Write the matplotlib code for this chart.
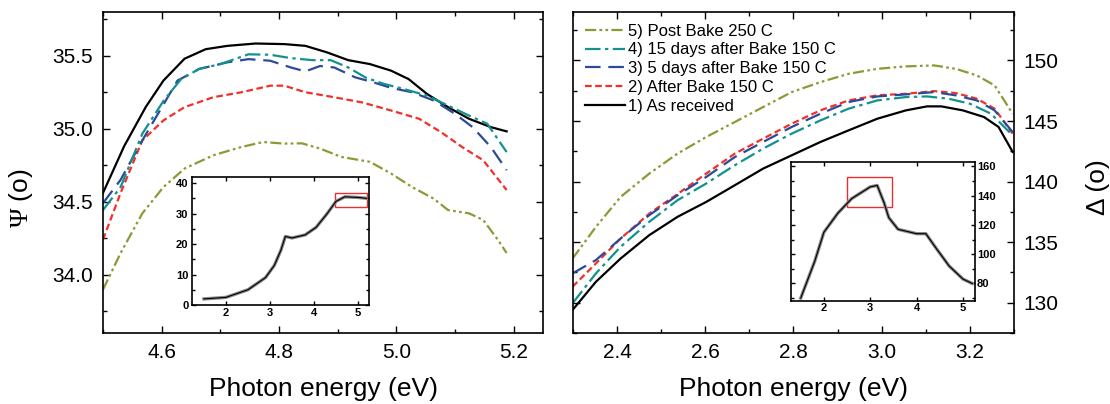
import matplotlib
matplotlib.use("Agg")
import matplotlib.pyplot as plt
from matplotlib.patches import Rectangle
from matplotlib.ticker import MultipleLocator

plt.rcParams['font.family'] = ['Liberation Sans', 'DejaVu Sans']
plt.rcParams['mathtext.fontset'] = 'custom'
plt.rcParams['mathtext.rm'] = 'Liberation Serif'

# ---- Psi data (left panel) ----
psi1_x = [4.500, 4.536, 4.573, 4.603, 4.639, 4.675, 4.712, 4.760, 4.809, 4.845,
          4.882, 4.918, 4.955, 4.991, 5.021, 5.052, 5.088, 5.124, 5.161, 5.188]
psi1_y = [34.56, 34.88, 35.15, 35.33, 35.48, 35.545, 35.568, 35.584, 35.58, 35.568,
          35.523, 35.47, 35.443, 35.398, 35.34, 35.239, 35.148, 35.068, 35.011, 34.982]

psi2_x = [4.500, 4.530, 4.567, 4.603, 4.639, 4.688, 4.736, 4.785, 4.809, 4.845,
          4.894, 4.942, 4.991, 5.039, 5.076, 5.112, 5.148, 5.188]
psi2_y = [34.24, 34.56, 34.92, 35.057, 35.148, 35.216, 35.25, 35.295, 35.295, 35.25,
          35.216, 35.18, 35.125, 35.068, 34.977, 34.875, 34.784, 34.58]

psi3_x = [4.500, 4.530, 4.567, 4.627, 4.664, 4.712, 4.748, 4.785, 4.820, 4.845,
          4.870, 4.894, 4.930, 4.961, 4.991, 5.027, 5.064, 5.100, 5.130, 5.161, 5.188]
psi3_y = [34.49, 34.65, 34.92, 35.33, 35.41, 35.455, 35.477, 35.466, 35.42, 35.393,
          35.43, 35.42, 35.352, 35.318, 35.28, 35.25, 35.193, 35.102, 35.011, 34.875, 34.716]

psi4_x = [4.500, 4.530, 4.567, 4.603, 4.633, 4.664, 4.700, 4.748, 4.785, 4.820,
          4.857, 4.888, 4.918, 4.948, 4.979, 5.015, 5.052, 5.088, 5.124, 5.155, 5.188]
psi4_y = [34.443, 34.6, 34.966, 35.19, 35.34, 35.41, 35.443, 35.51, 35.507, 35.484,
          35.47, 35.47, 35.42, 35.35, 35.307, 35.27, 35.227, 35.159, 35.09, 35.034, 34.84]

psi5_x = [4.500, 4.530, 4.567, 4.603, 4.639, 4.688, 4.736, 4.773, 4.809, 4.839,
          4.870, 4.906, 4.955, 4.991, 5.027, 5.064, 5.088, 5.124, 5.148, 5.173, 5.188]
psi5_y = [33.898, 34.148, 34.42, 34.6, 34.727, 34.818, 34.875, 34.909, 34.898, 34.9,
          34.864, 34.807, 34.773, 34.693, 34.6, 34.52, 34.443, 34.42, 34.375, 34.239, 34.148]

# ---- Delta data (right panel) ----
del1_x = [2.299, 2.352, 2.408, 2.473, 2.537, 2.602, 2.667, 2.731, 2.796, 2.861,
          2.925, 2.990, 3.055, 3.103, 3.135, 3.184, 3.232, 3.265, 3.297]
del1_y = [129.40, 131.73, 133.65, 135.58, 137.09, 138.32, 139.70, 141.07, 142.17, 143.27,
          144.23, 145.19, 145.88, 146.21, 146.21, 145.88, 145.33, 144.51, 142.45]

del2_x = [2.299, 2.352, 2.408, 2.473, 2.537, 2.602, 2.667, 2.731, 2.796, 2.861,
          2.925, 2.990, 3.055, 3.119, 3.168, 3.216, 3.256, 3.297]
del2_y = [131.32, 133.24, 135.30, 137.36, 138.97, 140.66, 142.31, 143.54, 144.78, 145.88,
          146.70, 147.12, 147.25, 147.47, 147.31, 146.84, 146.02, 143.96]

del3_x = [2.299, 2.352, 2.408, 2.473, 2.537, 2.602, 2.667, 2.731, 2.796, 2.861,
          2.925, 2.990, 3.055, 3.119, 3.168, 3.216, 3.256, 3.297]
del3_y = [132.42, 133.52, 135.30, 137.23, 138.87, 140.38, 142.03, 143.27, 144.51, 145.60,
          146.57, 147.03, 147.20, 147.39, 147.12, 146.70, 145.88, 144.09]

del4_x = [2.299, 2.352, 2.408, 2.473, 2.537, 2.602, 2.667, 2.731, 2.796, 2.861,
          2.925, 2.990, 3.055, 3.103, 3.152, 3.200, 3.248, 3.297]
del4_y = [129.95, 132.42, 134.62, 136.68, 138.46, 139.84, 141.35, 142.72, 143.96, 145.05,
          146.02, 146.70, 146.98, 147.03, 146.84, 146.43, 145.60, 143.82]

del5_x = [2.299, 2.352, 2.408, 2.473, 2.537, 2.602, 2.667, 2.731, 2.796, 2.861,
          2.925, 2.990, 3.055, 3.119, 3.168, 3.216, 3.256, 3.297]
del5_y = [133.65, 136.26, 138.74, 140.66, 142.31, 143.68, 144.92, 146.15, 147.39, 148.21,
          148.90, 149.31, 149.51, 149.59, 149.31, 148.76, 147.94, 145.60]

# ---- inset data (full spectra) ----
inset_psi_x = [1.5, 2.0, 2.5, 2.9, 3.1, 3.25, 3.35, 3.5, 3.8, 4.05, 4.3, 4.5, 4.7, 5.0, 5.2]
inset_psi_y = [2.0, 2.5, 5.0, 9.0, 13.0, 18.0, 22.5, 22.0, 23.0, 25.5, 30.0, 34.0, 35.5, 35.3, 35.0]

inset_del_x = [1.5, 1.8, 2.0, 2.3, 2.6, 3.0, 3.15, 3.3, 3.4, 3.6, 4.0, 4.2, 4.4, 4.7, 5.0, 5.2]
inset_del_y = [70, 95, 115, 128, 138, 146, 147, 135, 125, 117, 114, 114, 105, 92, 83, 80]

labels = ["1) As received", "2) After Bake 150 C", "3) 5 days after Bake 150 C",
          "4) 15 days after Bake 150 C", "5) Post Bake 250 C"]
colors = ["black", "#f0302a", "#2c4a9a", "#12928c", "#8c9a35"]
styles = ["-", (0, (3, 1.6)), (0, (7, 3.5)), (0, (7, 2, 1.5, 2)), (0, (5, 1.5, 1.2, 1.5, 1.2, 1.5))]

fig = plt.figure(figsize=(11.1, 4.04), dpi=100)
axL = fig.add_axes([0.0928, 0.1757, 0.3964, 0.7946])
axR = fig.add_axes([0.5162, 0.1757, 0.3973, 0.7946])

psi = [(psi1_x, psi1_y), (psi2_x, psi2_y), (psi3_x, psi3_y), (psi4_x, psi4_y), (psi5_x, psi5_y)]
dlt = [(del1_x, del1_y), (del2_x, del2_y), (del3_x, del3_y), (del4_x, del4_y), (del5_x, del5_y)]

handles = []
for i in range(5):
    axL.plot(psi[i][0], psi[i][1], color=colors[i], linestyle=styles[i], lw=1.6)
    h, = axR.plot(dlt[i][0], dlt[i][1], color=colors[i], linestyle=styles[i], lw=1.6,
                  label=labels[i])
    handles.append(h)


def style_axis(ax, size, major_len=5, minor_len=3, pad=3.5):
    ax.tick_params(which='both', direction='in', top=True, right=True, left=True,
                   bottom=True, labelsize=size, pad=pad)
    ax.tick_params(which='major', length=major_len, width=1)
    ax.tick_params(which='minor', length=minor_len, width=1)
    for s in ax.spines.values():
        s.set_linewidth(1.2)


axL.set_xlim(4.5, 5.25)
axL.set_ylim(33.6, 35.8)
axL.xaxis.set_major_locator(MultipleLocator(0.2))
axL.xaxis.set_minor_locator(MultipleLocator(0.1))
axL.yaxis.set_major_locator(MultipleLocator(0.5))
axL.yaxis.set_minor_locator(MultipleLocator(0.25))
style_axis(axL, 15, pad=7)
axL.set_xlabel("Photon energy (eV)", fontsize=19)
axL.xaxis.set_label_coords(0.5, -0.138)
axL.set_ylabel(r"$\mathrm{\Psi}$ (o)", fontsize=19)
axL.yaxis.set_label_coords(-0.155, 0.42)

axR.set_xlim(2.3, 3.3)
axR.set_ylim(127.5, 154)
axR.xaxis.set_major_locator(MultipleLocator(0.2))
axR.xaxis.set_minor_locator(MultipleLocator(0.1))
axR.yaxis.set_major_locator(MultipleLocator(5))
axR.yaxis.set_minor_locator(MultipleLocator(2.5))
style_axis(axR, 15, pad=7)
axR.yaxis.tick_right()
axR.tick_params(which='both', left=True, labelleft=False, labelright=True)
axR.yaxis.set_label_position('right')
axR.set_xlabel("Photon energy (eV)", fontsize=19)
axR.xaxis.set_label_coords(0.5, -0.138)
axR.set_ylabel("Δ (o)", fontsize=19)
axR.yaxis.set_label_coords(1.163, 0.455)

axR.legend(handles[::-1], labels[::-1], loc='upper left', frameon=False, fontsize=12,
           handlelength=2.45, handletextpad=0.15, labelspacing=0.23,
           borderaxespad=0.3, bbox_to_anchor=(0.0, 1.0))

# insets
inL = fig.add_axes([192 / 1110, 1 - 305 / 404, 177 / 1110, 128 / 404])
inL.plot(inset_psi_x, inset_psi_y, color="#888888", lw=2.4)
inL.plot(inset_psi_x, inset_psi_y, color="black", lw=0.8)
inL.set_xlim(1.23, 5.25)
inL.set_ylim(0, 42)
inL.xaxis.set_major_locator(MultipleLocator(1))
inL.yaxis.set_major_locator(MultipleLocator(10))
inL.yaxis.set_minor_locator(MultipleLocator(5))
style_axis(inL, 8, 3, 2, pad=2.5)
for t in inL.get_xticklabels() + inL.get_yticklabels():
    t.set_fontweight('bold')
inL.add_patch(Rectangle((4.48, 32.3), 0.72, 4.3, fill=False, edgecolor="#e53030", lw=1))

inR = fig.add_axes([791 / 1110, 1 - 301 / 404, 184 / 1110, 139 / 404])
inR.plot(inset_del_x, inset_del_y, color="#888888", lw=2.4)
inR.plot(inset_del_x, inset_del_y, color="black", lw=0.8)
inR.set_xlim(1.29, 5.26)
inR.set_ylim(68, 163)
inR.xaxis.set_major_locator(MultipleLocator(1))
inR.yaxis.set_major_locator(MultipleLocator(20))
inR.yaxis.set_minor_locator(MultipleLocator(10))
style_axis(inR, 8, 3, 2, pad=1.5)
inR.yaxis.tick_right()
inR.tick_params(which='both', left=True, labelleft=False, labelright=True)
for t in inR.get_xticklabels() + inR.get_yticklabels():
    t.set_fontweight('bold')
inR.add_patch(Rectangle((2.5, 132.5), 0.97, 20, fill=False, edgecolor="#e53030", lw=1))

fig.savefig("out.png", dpi=100)
